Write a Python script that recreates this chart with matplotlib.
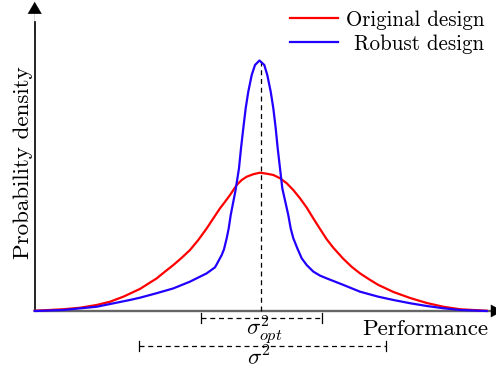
import matplotlib
matplotlib.use("Agg")
import matplotlib.pyplot as plt

plt.rcParams['mathtext.fontset'] = 'cm'
plt.rcParams['axes.unicode_minus'] = False

# Curves (performance, probability density)
orig_x = [-4.506, -3.934, -3.6, -3.266, -3.0, -2.734, -2.40, -2.234, -2.066, -1.90, -1.734,
          -1.566, -1.40, -1.234, -1.066, -0.934, -0.80, -0.70, -0.60, -0.466, -0.366,
          -0.266, -0.134, 0.0, 0.134, 0.266, 0.40, 0.534, 0.666, 0.80, 0.934, 1.066,
          1.20, 1.334, 1.466, 1.666, 1.834, 2.0, 2.2, 2.366, 2.666, 3.0, 3.334, 3.666,
          4.0, 4.534]
orig_y = [0.001, 0.007, 0.013, 0.024, 0.037, 0.057, 0.088, 0.109, 0.130, 0.157, 0.183,
          0.212, 0.243, 0.283, 0.329, 0.369, 0.409, 0.435, 0.462, 0.502, 0.522,
          0.535, 0.545, 0.551, 0.547, 0.542, 0.529, 0.509, 0.482, 0.449, 0.412, 0.369,
          0.327, 0.286, 0.252, 0.208, 0.176, 0.150, 0.124, 0.104, 0.076, 0.052, 0.032, 0.017,
          0.007, 0.001]

rob_x = [-4.506, -3.934, -3.266, -2.60, -2.40, -2.066, -1.734, -1.40, -1.066, -0.90,
         -0.866, -0.766, -0.72, -0.666, -0.626, -0.586, -0.49, -0.42, -0.38, -0.334,
         -0.286, -0.234, -0.166, -0.10, -0.01, 0.086, 0.146, 0.214, 0.266, 0.314, 0.354,
         0.40, 0.446, 0.566, 0.614, 0.666, 0.746, 0.834, 0.934, 1.066, 1.20, 1.334,
         1.666, 2.0, 2.366, 2.666, 3.0, 3.334, 3.666, 4.0, 4.534]
rob_y = [0.0, 0.004, 0.017, 0.044, 0.053, 0.071, 0.090, 0.117, 0.150, 0.174,
         0.186, 0.223, 0.246, 0.290, 0.329, 0.382, 0.480, 0.569, 0.648, 0.728,
         0.808, 0.874, 0.940, 0.980, 0.998, 0.980, 0.940, 0.874, 0.808, 0.728, 0.648,
         0.569, 0.489, 0.382, 0.329, 0.290, 0.250, 0.210, 0.183, 0.157, 0.141, 0.130,
         0.104, 0.077, 0.057, 0.044, 0.031, 0.020, 0.011, 0.004, 0.0]

series_labels = ["Original design", "Robust design"]
series_colors = ['#ff0000', '#2200ff']
sigma_opt = (-1.18, 1.246)
sigma_all = (-2.414, 2.52)

fig = plt.figure(figsize=(4.96, 3.72), dpi=100)
ax = fig.add_axes([0, 0, 1, 1])
ax.set_xlim(-5.2, 4.72)
ax.set_ylim(-0.2430, 1.2390)
ax.axis('off')

cm = 'cmr10'
FS = 16.6
x0 = -4.506
# axes
ax.plot([x0, 4.7], [0, 0], color='#666666', lw=1.7, zorder=1, solid_capstyle='butt')
ax.annotate('', xy=(4.86, 0), xytext=(4.5, 0), annotation_clip=False,
            arrowprops=dict(arrowstyle='-|>,head_length=0.86,head_width=0.45', color='black',
                            lw=0.1, shrinkA=0, shrinkB=0))
ax.plot([x0, x0], [0, 1.15], color='black', lw=1.2, zorder=1)
ax.annotate('', xy=(x0, 1.232), xytext=(x0, 1.1), annotation_clip=False,
            arrowprops=dict(arrowstyle='-|>,head_length=0.86,head_width=0.5', color='black',
                            lw=0.1, shrinkA=0, shrinkB=0))

ax.plot(orig_x, orig_y, color=series_colors[0], lw=1.6, zorder=3, solid_joinstyle='round')
ax.plot(rob_x, rob_y, color=series_colors[1], lw=1.6, zorder=3, solid_joinstyle='round')

# center dashed line
ax.plot([0.01, 0.01], [0, 0.995], color='black', lw=0.9, ls=(0, (4, 3)), zorder=2)

# range markers
for (a, b), yv, lab, lx, ly in [(sigma_opt, -0.026, r'$\sigma^2_{opt}$', 0.08, -0.0996),
                                (sigma_all, -0.139, r'$\sigma^2$', -0.02, -0.213)]:
    ax.plot([a, b], [yv, yv], color='black', lw=0.9, ls=(0, (4, 3)))
    for xv in (a, b):
        ax.plot([xv, xv], [yv - 0.02, yv + 0.02], color='black', lw=0.9)
    ax.text(lx, ly, lab, fontsize=FS, ha='center', va='baseline')

ax.text(4.56, -0.0956, 'Performance', fontfamily=cm, fontsize=FS, ha='right', va='baseline')
ax.text(-4.63, 0.592, 'Probability density', fontfamily=cm, fontsize=FS,
        ha='center', va='baseline', rotation=90, rotation_mode='anchor')

# legend (drawn in axes-fraction coordinates)
tr = ax.transAxes
W, H = 496.0, 372.0
for i, (lab, col) in enumerate(zip(series_labels, series_colors)):
    ly = 18.3 + 24 * i
    ax.plot([289.5 / W, 337.5 / W], [1 - ly / H, 1 - ly / H], color=col, lw=1.6, transform=tr)
    ax.text(484 / W, 1 - (ly + 7.5) / H, lab, fontfamily=cm, fontsize=15.1,
            ha='right', va='baseline', transform=tr)

fig.savefig('out.png', dpi=100)
